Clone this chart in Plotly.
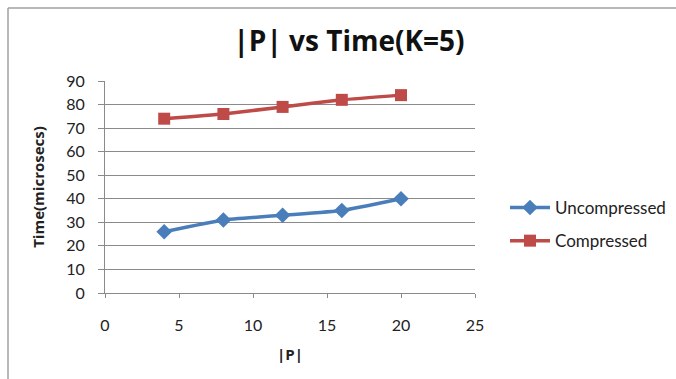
import plotly.graph_objects as go

# Series data
p_sizes = [4, 8, 12, 16, 20]
uncompressed = [26, 31, 33, 35, 40]
compressed = [74, 76, 79, 82, 84]

x_ticks = [0, 5, 10, 15, 20, 25]
y_ticks = [0, 10, 20, 30, 40, 50, 60, 70, 80, 90]

FONT = "Lato, 'Open Sans', sans-serif"
BOLD_FONT = "'Open Sans', Lato, sans-serif"

fig = go.Figure()
fig.add_trace(go.Scatter(
    x=p_sizes, y=uncompressed, name="Uncompressed", mode="lines+markers",
    legendgroup="u",
    line=dict(color="#4A7EBB", width=3.5, shape="spline", smoothing=0.4),
    marker=dict(symbol="diamond", size=12, color="#4A7EBB"),
))
fig.add_trace(go.Scatter(
    x=p_sizes, y=compressed, name="Compressed", mode="lines+markers",
    legendgroup="c",
    line=dict(color="#BE4B48", width=3.5, shape="spline", smoothing=0.4),
    marker=dict(symbol="square", size=12, color="#BE4B48"),
))

L, R, T, B = 105, 201, 81, 86
W, H = 676, 379
pw, ph = W - L - R, H - T - B

fig.update_layout(
    width=W, height=H,
    margin=dict(l=L, r=R, t=T, b=B, autoexpand=False),
    paper_bgcolor="white", plot_bgcolor="white",
    font=dict(family=FONT, color="#222222", size=16),
    title=dict(text="<b>|P| vs Time(K=5)</b>", x=349 / W, xanchor="center",
               y=1 - 41 / H, yanchor="middle",
               font=dict(family=BOLD_FONT, size=28, color="#111111")),
    xaxis=dict(range=[0, 25], tickvals=x_ticks, showgrid=False, zeroline=False,
               showline=True, linecolor="#8a8a8a", linewidth=1,
               ticks="outside", ticklen=4, tickcolor="#8a8a8a",
               ticklabelstandoff=14, automargin=False,
               tickfont=dict(size=16),
               title=dict(text="<b>|P|</b>", font=dict(family=BOLD_FONT, size=15), standoff=16)),
    yaxis=dict(range=[0, 90], tickvals=y_ticks, showgrid=True, gridcolor="#8a8a8a", gridwidth=1,
               zeroline=False, showline=True, linecolor="#8a8a8a", linewidth=1,
               ticks="outside", ticklen=6, tickcolor="#8a8a8a",
               ticklabelstandoff=10, automargin=False,
               tickfont=dict(size=16),
               title=dict(text="<b>Time(microsecs)</b>", font=dict(family=BOLD_FONT, size=15), standoff=17)),
    legend=dict(x=(505 - L) / pw, y=(293 - 190) / ph, xanchor="left", yanchor="top",
                font=dict(size=17), bgcolor="rgba(0,0,0,0)", tracegroupgap=8,
                itemwidth=40),
    showlegend=True,
)

# Outer chart frame (left and top edges)
fx = (8 - L) / pw
fy = (H - B - 8) / ph
fig.add_shape(type="line", xref="paper", yref="paper",
              x0=fx, x1=fx, y0=fy, y1=(H - B - H - 5) / ph,
              line=dict(color="#a0a0a0", width=1.5))
fig.add_shape(type="line", xref="paper", yref="paper",
              x0=fx, x1=(W + 5 - L) / pw, y0=fy, y1=fy,
              line=dict(color="#a0a0a0", width=1.5))

fig.write_html("out.html")
